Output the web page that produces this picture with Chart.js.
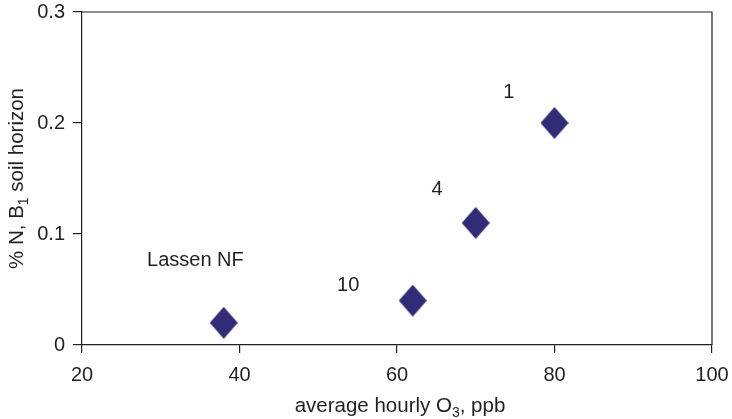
<!DOCTYPE html>
<html>
<head>
<meta charset="utf-8">
<script src="https://cdn.jsdelivr.net/npm/chart.js@4.4.0/dist/chart.umd.min.js"></script>
<style>
  html, body { margin: 0; padding: 0; background: #fff; }
  #wrap { width: 732px; height: 419px; }
</style>
</head>
<body>
<div id="wrap"><canvas id="chart"></canvas></div>
<script>
// data
const ozone = [38, 62, 70, 80];             // average hourly O3, ppb
const nitrogen = [0.02, 0.04, 0.11, 0.2];   // % N in B1 horizon
const siteNames = ['Lassen NF', '10', '4', '1'];
const nameX = [34.4, 53.8, 65.1, 74.2];
const nameY = [0.076, 0.054, 0.14, 0.2275];
const xTicks = [20, 40, 60, 80, 100];
const yTicks = [0, 0.1, 0.2, 0.3];

const FONT = '"Liberation Sans", Arial, Helvetica, sans-serif';
const INK = '#231f20';
const MARK = '#312b78';

// diamond marker, a bit taller than wide
function makeDiamond(w, h) {
    const c = document.createElement('canvas');
    c.width = w; c.height = h;
    const g = c.getContext('2d');
    g.fillStyle = MARK;
    g.beginPath();
    g.moveTo(w / 2, 0);
    g.lineTo(w, h / 2);
    g.lineTo(w / 2, h);
    g.lineTo(0, h / 2);
    g.closePath();
    g.fill();
    return c;
}
const diamond = makeDiamond(28, 32);

// draws text pieces, some of them as subscripts
function drawRich(ctx, parts, size) {
    const subSize = Math.round(size * 0.7);
    let total = 0;
    parts.forEach(p => {
        ctx.font = (p.sub ? subSize : size) + 'px ' + FONT;
        p.w = ctx.measureText(p.t).width;
        total += p.w;
    });
    let x = -total / 2;
    parts.forEach(p => {
        ctx.font = (p.sub ? subSize : size) + 'px ' + FONT;
        ctx.fillText(p.t, x, p.sub ? 5 : 0);
        x += p.w;
    });
}

const extras = {
    id: 'extras',
    afterDraw(chart) {
        const { ctx, chartArea: a, scales } = chart;
        ctx.save();
        // frame: top and right sides
        ctx.strokeStyle = INK;
        ctx.lineWidth = 1.2;
        ctx.beginPath();
        ctx.moveTo(a.left, a.top);
        ctx.lineTo(a.right, a.top);
        ctx.lineTo(a.right, a.bottom);
        ctx.stroke();

        // site labels
        ctx.fillStyle = INK;
        ctx.font = '20px ' + FONT;
        ctx.textAlign = 'center';
        ctx.textBaseline = 'middle';
        siteNames.forEach((s, i) => {
            ctx.fillText(s, scales.x.getPixelForValue(nameX[i]), scales.y.getPixelForValue(nameY[i]));
        });

        // axis titles
        ctx.textAlign = 'left';
        ctx.textBaseline = 'alphabetic';
        ctx.save();
        ctx.translate((a.left + a.right) / 2 + 3, a.bottom + 67);
        drawRich(ctx, [{ t: 'average hourly O' }, { t: '3', sub: true }, { t: ', ppb' }], 20.5);
        ctx.restore();

        ctx.save();
        ctx.translate(a.left - 59, (a.top + a.bottom) / 2);
        ctx.rotate(-Math.PI / 2);
        drawRich(ctx, [{ t: '% N, B' }, { t: '1', sub: true }, { t: ' soil horizon' }], 20.5);
        ctx.restore();
        ctx.restore();
    }
};

// keep tick labels from pushing the plot area around
function noOverflow(s) {
    s.paddingTop = 0; s.paddingBottom = 0;
    s.paddingLeft = 0; s.paddingRight = 0;
}

new Chart(document.getElementById('chart'), {
    type: 'scatter',
    data: {
        datasets: [{
            data: ozone.map((x, i) => ({ x: x, y: nitrogen[i] })),
            pointStyle: diamond,
            backgroundColor: MARK,
            borderColor: MARK
        }]
    },
    options: {
        responsive: true,
        maintainAspectRatio: false,
        animation: false,
        layout: { padding: { left: 0, top: 12, right: 20, bottom: 0 } },
        plugins: { legend: { display: false }, tooltip: { enabled: false } },
        scales: {
            x: {
                type: 'linear',
                min: 20,
                max: 100,
                afterBuildTicks: s => { s.ticks = xTicks.map(v => ({ value: v })); },
                afterFit: s => { s.height = 74; noOverflow(s); },
                grid: { drawOnChartArea: false, tickLength: 8, color: INK, lineWidth: 1.2 },
                border: { display: true, color: INK, width: 1.2 },
                ticks: { color: INK, padding: 10, font: { family: FONT, size: 20 } }
            },
            y: {
                type: 'linear',
                min: 0,
                max: 0.3,
                afterBuildTicks: s => { s.ticks = yTicks.map(v => ({ value: v })); },
                afterFit: s => { s.width = 82; noOverflow(s); },
                grid: { drawOnChartArea: false, tickLength: 9, color: INK, lineWidth: 1.2 },
                border: { display: true, color: INK, width: 1.2 },
                ticks: { color: INK, padding: 8, font: { family: FONT, size: 20 } }
            }
        }
    },
    plugins: [extras]
});
</script>
</body>
</html>
